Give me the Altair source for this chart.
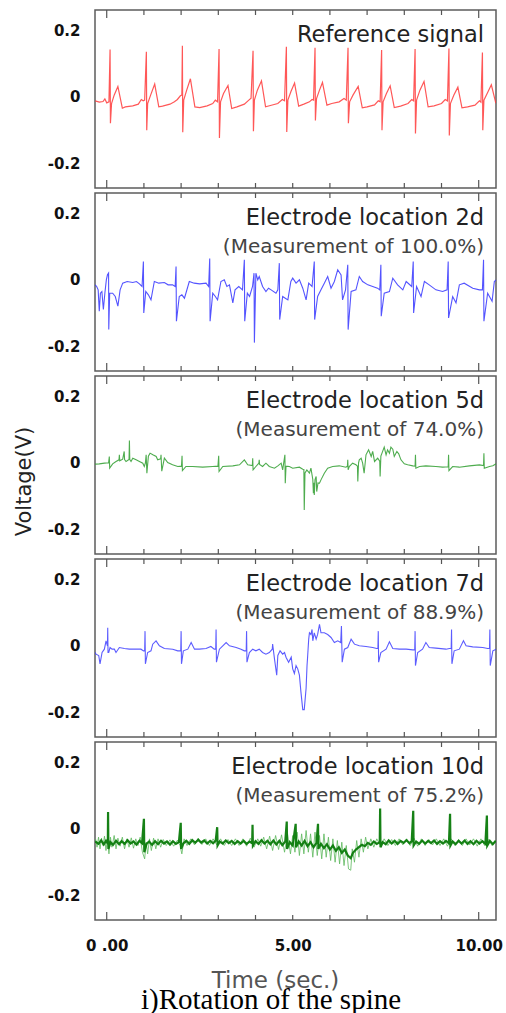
import altair as alt
import pandas as pd

# ---------------- data ----------------
TIME_TICKS_MINOR = [1, 2, 3, 4, 5, 6, 7, 8, 9]
TIME_TICKS_MAJOR = [0, 10]
TIME_LABELS = [0, 5, 10]
VOLT_TICKS = [-0.2, 0, 0.2]

PANEL_TITLES = ["Reference signal", "Electrode location 2d", "Electrode location 5d",
                "Electrode location 7d", "Electrode location 10d"]
PANEL_SUBTITLES = ["", "(Measurement of 100.0%)", "(Measurement of 74.0%)",
                   "(Measurement of 88.9%)", "(Measurement of 75.2%)"]

REF_SIGNAL = [
    (-0.31, -0.012), (-0.2, -0.016), (-0.1, -0.014), (-0.05, -0.006), (0.0, -0.018), (0.06, -0.015),
    (0.09, 0.142), (0.10, -0.079), (0.13, -0.02), (0.2, 0.005), (0.3, 0.031), (0.42, -0.034),
    (0.5, -0.03), (0.7, -0.027), (0.85, -0.022), (0.93, -0.008), (0.98, -0.012), (1.02, -0.01),
    (1.066, 0.135), (1.076, -0.10), (1.1, -0.02), (1.18, 0.005), (1.29, 0.038), (1.40, -0.03),
    (1.5, -0.028), (1.7, -0.022), (1.82, -0.015), (1.9, -0.008), (1.98, 0.003), (2.02, 0.005),
    (2.034, 0.153), (2.044, -0.106), (2.07, -0.01), (2.15, 0.02), (2.25, 0.054), (2.37, -0.03),
    (2.5, -0.032), (2.7, -0.027), (2.85, -0.02), (2.92, -0.01), (2.98, -0.015),
    (3.02, 0.143), (3.03, -0.123), (3.06, -0.015), (3.14, 0.01), (3.26, 0.034), (3.36, -0.035),
    (3.5, -0.03), (3.7, -0.022), (3.82, -0.01), (3.88, -0.004),
    (3.934, 0.138), (3.944, -0.103), (3.97, -0.01), (4.05, 0.02), (4.16, 0.048), (4.27, -0.03),
    (4.4, -0.026), (4.6, -0.02), (4.72, -0.008), (4.78, -0.012),
    (4.83, 0.150), (4.84, -0.105), (4.87, -0.01), (4.95, 0.015), (5.05, 0.041), (5.16, -0.028),
    (5.3, -0.022), (5.45, -0.015), (5.52, -0.008), (5.56, -0.01),
    (5.60, 0.147), (5.61, -0.071), (5.64, -0.005), (5.72, 0.02), (5.80, 0.043), (5.92, -0.025),
    (6.05, -0.02), (6.25, -0.015), (6.38, -0.005), (6.44, -0.01),
    (6.487, 0.147), (6.497, -0.079), (6.53, -0.015), (6.62, 0.005), (6.76, 0.031), (6.87, -0.033),
    (7.0, -0.03), (7.2, -0.024), (7.3, -0.012), (7.35, -0.015),
    (7.39, 0.140), (7.40, -0.10), (7.43, -0.015), (7.52, 0.01), (7.62, 0.033), (7.73, -0.032),
    (7.9, -0.028), (8.1, -0.02), (8.2, -0.008), (8.25, -0.012),
    (8.29, 0.143), (8.30, -0.11), (8.33, -0.01), (8.42, 0.02), (8.53, 0.046), (8.64, -0.03),
    (8.8, -0.027), (9.0, -0.02), (9.1, -0.008), (9.16, -0.012),
    (9.20, 0.145), (9.21, -0.116), (9.24, -0.02), (9.33, 0.005), (9.44, 0.029), (9.55, -0.033),
    (9.7, -0.03), (9.9, -0.025), (10.02, -0.012), (10.06, -0.016),
    (10.10, 0.133), (10.11, -0.10), (10.14, -0.01), (10.25, 0.015), (10.34, 0.036), (10.46, -0.019),
]

LOC_2D = [
    (-0.31, -0.015), (-0.27, -0.02), (-0.23, -0.03), (-0.20, -0.094), (-0.17, -0.04), (-0.13, -0.035),
    (-0.09, -0.089), (-0.05, -0.04), (-0.01, 0.0), (0.02, 0.015), (0.05, 0.02), (0.055, -0.149),
    (0.08, -0.04), (0.16, -0.04), (0.23, -0.05), (0.30, -0.079), (0.36, -0.03), (0.43, -0.01),
    (0.55, -0.005), (0.7, -0.008), (0.8, -0.005), (0.88, -0.012), (0.95, -0.02),
    (0.986, 0.055), (0.996, -0.099), (1.05, -0.035), (1.12, -0.045), (1.19, -0.06), (1.28, -0.005),
    (1.4, -0.01), (1.55, -0.008), (1.65, -0.015), (1.77, -0.015), (1.84, -0.02),
    (1.864, 0.04), (1.874, -0.124), (1.95, -0.05), (2.02, -0.045), (2.09, -0.055), (2.22, -0.005),
    (2.35, -0.01), (2.5, -0.012), (2.67, -0.01), (2.74, -0.02),
    (2.769, 0.064), (2.779, -0.124), (2.85, -0.04), (2.92, -0.05), (2.98, -0.06), (3.07, -0.005),
    (3.16, 0.0), (3.23, -0.02), (3.30, -0.015), (3.39, -0.069), (3.45, -0.03), (3.55, -0.02),
    (3.65, -0.03), (3.70, 0.06), (3.71, -0.124), (3.78, -0.04), (3.84, -0.05), (3.92, -0.02),
    (3.96, 0.02), (3.97, -0.188), (4.01, 0.02), (4.06, 0.0), (4.10, 0.01), (4.19, -0.02),
    (4.28, -0.035), (4.35, -0.025), (4.42, -0.03), (4.55, -0.04), (4.60, -0.03),
    (4.64, 0.05), (4.65, -0.119), (4.73, -0.05), (4.80, -0.055), (4.87, -0.06), (4.95, -0.005),
    (5.0, 0.005), (5.09, -0.01), (5.18, 0.0), (5.27, -0.025), (5.36, -0.06), (5.43, -0.01),
    (5.52, -0.02), (5.58, 0.055), (5.59, -0.119), (5.67, -0.05), (5.76, -0.03), (5.85, -0.01),
    (5.94, 0.01), (6.03, -0.025), (6.12, -0.005), (6.21, 0.03), (6.30, 0.015), (6.34, -0.06),
    (6.42, -0.03), (6.48, 0.045), (6.49, -0.149), (6.57, -0.035), (6.70, -0.03), (6.79, 0.01),
    (6.88, -0.005), (7.02, -0.015), (7.15, -0.02), (7.28, -0.025), (7.34, -0.03),
    (7.37, 0.045), (7.38, -0.109), (7.46, -0.04), (7.60, -0.035), (7.69, 0.005), (7.82, -0.015),
    (7.96, -0.03), (8.05, -0.005), (8.20, -0.02), (8.24, 0.055), (8.25, -0.099), (8.33, -0.02),
    (8.45, -0.05), (8.54, -0.005), (8.67, -0.015), (8.85, -0.03), (9.03, -0.035), (9.15, -0.03),
    (9.18, 0.055), (9.19, -0.114), (9.30, -0.05), (9.39, -0.069), (9.48, -0.015), (9.61, -0.01),
    (9.84, -0.025), (10.02, -0.03), (10.10, -0.03), (10.13, 0.06), (10.14, -0.124),
    (10.24, -0.04), (10.36, -0.064), (10.42, -0.005), (10.47, 0.0),
]

LOC_5D = [
    (-0.31, -0.004), (-0.2, -0.003), (-0.06, -0.001), (0.05, 0.0), (0.07, 0.019), (0.08, -0.016),
    (0.16, -0.003), (0.25, 0.004), (0.33, 0.009), (0.34, 0.024), (0.35, 0.006), (0.43, 0.011),
    (0.47, 0.034), (0.48, 0.01), (0.52, 0.004), (0.60, 0.01), (0.61, 0.067), (0.62, 0.01),
    (0.654, 0.004), (0.70, 0.014), (0.79, 0.009), (0.88, 0.004), (0.97, -0.001), (1.01, -0.011),
    (1.04, 0.0), (1.06, 0.024), (1.08, -0.031), (1.12, 0.02), (1.165, 0.029), (1.24, 0.024),
    (1.33, 0.019), (1.37, 0.009), (1.45, 0.012), (1.46, 0.024), (1.48, -0.025), (1.55, 0.014),
    (1.64, 0.001), (1.77, -0.006), (1.91, -0.011), (2.01, -0.01), (2.025, 0.021), (2.035, -0.023),
    (2.13, -0.011), (2.31, -0.011), (2.58, -0.013), (2.85, -0.011), (2.99, -0.01), (3.01, 0.021),
    (3.02, -0.026), (3.12, -0.011), (3.39, -0.009), (3.57, -0.006), (3.70, 0.009), (3.79, -0.006),
    (3.915, -0.008), (3.925, 0.014), (3.935, -0.021), (4.01, -0.011), (4.09, -0.001), (4.10, 0.009),
    (4.11, -0.005), (4.19, -0.011), (4.28, -0.001), (4.37, -0.011), (4.51, -0.016), (4.60, -0.009),
    (4.69, -0.001), (4.73, -0.021), (4.79, 0.024), (4.80, -0.061), (4.82, -0.01), (4.91, -0.011),
    (5.0, -0.016), (5.18, -0.013), (5.27, -0.019), (5.30, -0.02), (5.31, -0.141), (5.33, -0.03),
    (5.38, -0.021), (5.45, -0.031), (5.49, -0.016), (5.54, -0.05), (5.556, -0.091), (5.57, -0.06),
    (5.58, -0.096), (5.60, -0.05), (5.63, -0.041), (5.645, -0.086), (5.68, -0.06), (5.72, -0.061),
    (5.76, -0.051), (5.85, -0.031), (5.94, -0.016), (6.075, -0.011), (6.25, -0.009), (6.43, -0.013),
    (6.47, -0.01), (6.48, 0.009), (6.49, -0.021), (6.52, -0.011), (6.61, -0.001), (6.70, -0.006),
    (6.74, -0.01), (6.75, -0.056), (6.77, 0.0), (6.79, 0.009), (6.84, 0.014), (6.88, -0.001),
    (6.92, -0.031), (6.97, 0.024), (7.04, 0.039), (7.11, 0.019), (7.15, 0.034), (7.20, 0.004),
    (7.285, 0.014), (7.34, 0.005), (7.35, -0.041), (7.37, 0.02), (7.40, 0.029), (7.46, 0.047),
    (7.51, 0.024), (7.55, 0.039), (7.60, 0.029), (7.64, 0.047), (7.69, 0.041), (7.73, 0.019),
    (7.80, 0.034), (7.85, 0.027), (7.91, 0.009), (8.0, -0.003), (8.09, -0.006), (8.23, -0.009),
    (8.29, -0.01), (8.30, 0.024), (8.31, -0.016), (8.41, -0.011), (8.58, -0.009), (8.85, -0.011),
    (9.03, -0.013), (9.18, -0.012), (9.19, 0.024), (9.20, -0.023), (9.30, -0.011), (9.48, -0.013),
    (9.75, -0.009), (10.02, -0.006), (10.13, -0.008), (10.14, 0.029), (10.15, -0.016),
    (10.29, -0.011), (10.38, -0.009), (10.47, -0.003),
]

LOC_7D = [
    (-0.31, -0.02), (-0.287, -0.025), (-0.215, -0.029), (-0.18, -0.054), (-0.125, -0.02),
    (-0.063, -0.01), (-0.018, 0.015), (0.02, 0.0), (0.027, 0.054), (0.035, -0.02), (0.054, -0.02),
    (0.09, -0.005), (0.143, -0.01), (0.206, -0.01), (0.25, -0.02), (0.34, -0.005), (0.475, -0.008),
    (0.61, -0.01), (0.79, -0.01), (0.92, -0.01), (0.99, -0.015), (1.02, -0.015), (1.03, 0.044),
    (1.04, -0.054), (1.10, -0.02), (1.19, -0.015), (1.237, 0.005), (1.326, 0.015), (1.416, 0.0),
    (1.55, -0.008), (1.774, -0.01), (1.91, -0.015), (1.99, -0.015), (2.0, 0.044), (2.01, -0.054),
    (2.06, -0.015), (2.18, -0.01), (2.27, 0.01), (2.36, -0.01), (2.49, -0.01), (2.67, -0.008),
    (2.80, -0.002), (2.89, -0.01), (2.93, -0.01), (2.94, 0.049), (2.95, -0.049), (3.03, -0.01),
    (3.21, 0.01), (3.30, 0.0), (3.48, -0.005), (3.61, -0.01), (3.70, -0.015), (3.75, -0.015),
    (3.76, 0.044), (3.77, -0.049), (3.835, -0.02), (3.925, -0.01), (4.01, -0.015), (4.10, -0.01),
    (4.19, -0.02), (4.28, -0.025), (4.37, -0.02), (4.45, -0.01), (4.46, 0.005), (4.51, -0.039),
    (4.57, -0.088), (4.60, -0.029), (4.66, -0.015), (4.73, -0.025), (4.78, -0.02), (4.82, -0.034),
    (4.89, -0.049), (4.96, -0.034), (5.0, -0.069), (5.045, -0.083), (5.09, -0.059), (5.135, -0.069),
    (5.18, -0.088), (5.22, -0.137), (5.27, -0.191), (5.31, -0.191), (5.36, -0.127), (5.385, -0.059),
    (5.40, -0.034), (5.43, 0.02), (5.45, 0.039), (5.49, 0.034), (5.52, 0.049), (5.54, 0.015),
    (5.58, 0.039), (5.63, 0.02), (5.67, 0.034), (5.72, 0.064), (5.76, 0.039), (5.85, 0.039),
    (5.94, 0.034), (6.03, 0.025), (6.12, 0.01), (6.21, 0.015), (6.29, 0.01), (6.31, 0.059),
    (6.33, -0.049), (6.39, -0.01), (6.48, -0.005), (6.57, 0.02), (6.66, 0.005), (6.79, 0.0),
    (6.97, -0.002), (7.15, -0.005), (7.26, -0.008), (7.29, -0.008), (7.30, 0.044), (7.31, -0.049),
    (7.37, -0.02), (7.51, -0.01), (7.60, 0.012), (7.69, -0.008), (7.87, -0.01), (8.05, -0.01),
    (8.23, -0.012), (8.28, -0.012), (8.29, 0.044), (8.30, -0.059), (8.36, -0.02), (8.49, -0.01),
    (8.58, 0.01), (8.67, -0.005), (8.85, -0.007), (9.12, -0.01), (9.21, -0.008), (9.26, -0.008),
    (9.27, 0.049), (9.28, -0.054), (9.34, -0.015), (9.48, -0.01), (9.59, 0.015), (9.66, 0.0),
    (9.84, -0.003), (10.11, -0.005), (10.24, -0.008), (10.29, -0.008), (10.30, 0.049),
    (10.31, -0.059), (10.38, -0.015), (10.47, -0.01),
]

LOC_10D = [
    (-0.31, -0.038), (-0.22, -0.045), (-0.15, -0.035), (-0.08, -0.047), (-0.02, -0.036), (0.03, -0.044),
    (0.036, 0.05), (0.045, -0.06), (0.1, -0.04), (0.17, -0.048), (0.25, -0.036), (0.33, -0.046),
    (0.4, -0.037), (0.48, -0.045), (0.56, -0.034), (0.64, -0.044), (0.72, -0.038), (0.8, -0.047),
    (0.88, -0.036), (0.95, -0.043), (1.0, 0.03), (1.01, -0.07), (1.07, -0.045), (1.14, -0.038),
    (1.22, -0.048), (1.3, -0.037), (1.38, -0.046), (1.46, -0.036), (1.54, -0.044), (1.62, -0.038),
    (1.7, -0.047), (1.78, -0.037), (1.86, -0.045), (1.94, -0.04), (1.99, 0.018), (2.0, -0.06),
    (2.06, -0.044), (2.14, -0.036), (2.22, -0.045), (2.3, -0.034), (2.38, -0.042), (2.46, -0.033),
    (2.54, -0.041), (2.62, -0.035), (2.7, -0.044), (2.78, -0.036), (2.86, -0.043), (2.93, -0.035),
    (2.97, 0.005), (2.98, -0.05), (3.04, -0.038), (3.12, -0.044), (3.2, -0.035), (3.28, -0.043),
    (3.36, -0.036), (3.44, -0.045), (3.52, -0.037), (3.6, -0.044), (3.68, -0.036), (3.76, -0.045),
    (3.84, -0.038), (3.91, -0.043), (3.92, 0.012), (3.93, -0.05), (4.0, -0.037), (4.08, -0.045),
    (4.16, -0.034), (4.24, -0.044), (4.32, -0.036), (4.4, -0.046), (4.48, -0.035), (4.56, -0.047),
    (4.64, -0.036), (4.72, -0.049), (4.8, -0.038), (4.84, 0.022), (4.85, -0.06), (4.92, -0.04),
    (5.0, -0.05), (5.08, 0.015), (5.09, -0.055), (5.16, -0.038), (5.24, -0.05), (5.32, -0.036),
    (5.4, -0.052), (5.48, -0.04), (5.56, -0.055), (5.64, -0.042), (5.68, 0.015), (5.69, -0.06),
    (5.76, -0.045), (5.84, -0.058), (5.92, -0.046), (6.0, -0.062), (6.08, -0.05), (6.16, -0.066),
    (6.24, -0.055), (6.32, -0.072), (6.4, -0.062), (6.48, -0.08), (6.56, -0.088), (6.62, -0.072),
    (6.7, -0.062), (6.78, -0.055), (6.86, -0.048), (6.94, -0.052), (7.02, -0.042), (7.1, -0.048),
    (7.18, -0.038), (7.26, -0.045), (7.34, -0.04), (7.35, 0.061), (7.36, -0.055), (7.42, -0.04),
    (7.5, -0.046), (7.58, -0.035), (7.66, -0.044), (7.74, -0.036), (7.82, -0.045), (7.9, -0.036),
    (7.98, -0.042), (8.06, -0.034), (8.14, -0.043), (8.2, -0.037), (8.24, 0.054), (8.25, -0.05),
    (8.32, -0.038), (8.4, -0.045), (8.48, -0.035), (8.56, -0.044), (8.64, -0.036), (8.72, -0.043),
    (8.8, -0.035), (8.88, -0.045), (8.96, -0.037), (9.04, -0.044), (9.12, -0.036), (9.2, -0.043),
    (9.23, 0.045), (9.24, -0.05), (9.3, -0.038), (9.38, -0.046), (9.46, -0.036), (9.54, -0.044),
    (9.62, -0.035), (9.7, -0.045), (9.78, -0.037), (9.86, -0.046), (9.94, -0.036), (10.02, -0.044),
    (10.1, -0.037), (10.18, -0.045), (10.22, 0.04), (10.23, -0.05), (10.3, -0.036), (10.38, -0.046),
    (10.46, -0.036),
]

LOC_10D_NOISE = [
    (-0.3, -0.03), (-0.26, -0.055), (-0.22, -0.025), (-0.18, -0.06), (-0.14, -0.028), (-0.1, -0.05),
    (-0.06, -0.022), (-0.02, -0.065), (0.02, -0.03), (0.06, -0.075), (0.1, -0.025), (0.14, -0.055),
    (0.2, -0.02), (0.25, -0.06), (0.3, -0.028), (0.36, -0.052), (0.42, -0.025), (0.48, -0.06),
    (0.54, -0.03), (0.6, -0.055), (0.66, -0.027), (0.72, -0.058), (0.78, -0.03), (0.84, -0.05),
    (0.9, -0.025), (0.96, -0.07), (1.02, -0.09), (1.06, -0.04), (1.1, -0.075), (1.15, -0.03),
    (1.2, -0.065), (1.26, -0.028), (1.32, -0.06), (1.38, -0.03), (1.45, -0.055), (1.52, -0.032),
    (1.6, -0.05), (1.7, -0.033), (1.8, -0.052), (1.9, -0.034), (1.97, -0.05), (2.02, -0.075),
    (2.08, -0.03), (2.16, -0.05), (2.26, -0.03), (2.36, -0.048), (2.46, -0.028), (2.56, -0.047),
    (2.66, -0.03), (2.76, -0.05), (2.86, -0.03), (2.96, -0.048), (3.06, -0.03), (3.16, -0.05),
    (3.26, -0.032), (3.36, -0.05), (3.46, -0.03), (3.56, -0.05), (3.66, -0.03), (3.76, -0.052),
    (3.86, -0.028), (3.96, -0.055), (4.06, -0.03), (4.14, -0.052), (4.22, -0.025), (4.3, -0.06),
    (4.38, -0.022), (4.46, -0.065), (4.54, -0.02), (4.62, -0.062), (4.7, -0.018), (4.78, -0.07),
    (4.86, -0.015), (4.94, -0.075), (5.0, -0.02), (5.06, -0.07), (5.12, -0.01), (5.18, -0.08),
    (5.24, -0.015), (5.3, -0.075), (5.36, -0.005), (5.42, -0.07), (5.48, -0.015), (5.54, -0.085),
    (5.6, -0.01), (5.66, -0.08), (5.72, -0.02), (5.78, -0.09), (5.84, -0.015), (5.9, -0.085),
    (5.96, -0.025), (6.02, -0.095), (6.08, -0.03), (6.14, -0.1), (6.2, -0.035), (6.26, -0.105),
    (6.32, -0.04), (6.38, -0.11), (6.44, -0.05), (6.5, -0.12), (6.56, -0.124), (6.6, -0.06),
    (6.66, -0.1), (6.72, -0.035), (6.78, -0.085), (6.84, -0.03), (6.9, -0.07), (6.96, -0.025),
    (7.02, -0.06), (7.1, -0.03), (7.18, -0.055), (7.26, -0.03), (7.36, -0.05), (7.46, -0.03),
    (7.56, -0.05), (7.66, -0.032), (7.76, -0.05), (7.86, -0.03), (7.96, -0.048), (8.06, -0.03),
    (8.16, -0.05), (8.26, -0.028), (8.36, -0.052), (8.46, -0.03), (8.56, -0.05), (8.66, -0.032),
    (8.76, -0.048), (8.86, -0.03), (8.96, -0.05), (9.06, -0.03), (9.16, -0.052), (9.26, -0.03),
    (9.36, -0.05), (9.46, -0.032), (9.56, -0.05), (9.66, -0.03), (9.76, -0.048), (9.86, -0.03),
    (9.96, -0.052), (10.06, -0.03), (10.16, -0.05), (10.26, -0.032), (10.36, -0.05), (10.46, -0.035),
]

CAPTION = ["i)Rotation of the spine"]

# ---------------- layout / styling ----------------
W, H = 401, 178
SANS = "DejaVu Sans"
XS = alt.Scale(domain=[-0.315, 10.465], nice=False, zero=False)
YS = alt.Scale(domain=[-0.273, 0.26], nice=False, zero=False)


def to_df(pairs):
    return pd.DataFrame(pairs, columns=["t", "v"])


def y_axis(title=None):
    kw = dict(values=VOLT_TICKS,
              labelExpr="datum.value == 0 ? '0' : (datum.value < 0 ? '-' : '') + format(abs(datum.value), '.1f')",
              ticks=False, domain=False, grid=False, labelPadding=15,
              labelFont=SANS, labelFontWeight="bold", labelFontSize=15, labelColor="#111")
    if title:
        kw.update(title=title, titleFont=SANS, titleFontSize=21, titleFontWeight="normal",
                  titleColor="#222", titlePadding=13, titleY=105)
    else:
        kw["title"] = None
    return alt.Axis(**kw)


def x_axis(show):
    if not show:
        return None
    return alt.Axis(values=TIME_LABELS,
                    labelExpr="datum.value == 0 ? '0 .00' : format(datum.value, '.2f')",
                    ticks=False, domain=False, grid=False, labelPadding=18,
                    labelFont=SANS, labelFontWeight="bold", labelFontSize=15, labelColor="#111",
                    labelFlush=False, labelOverlap=False,
                    title="Time (sec.)", titleFont=SANS, titleFontSize=23, titleFontWeight="normal",
                    titleColor="#555", titleX=180, titleY=67, titleBaseline="alphabetic")


def panel(series, idx, y_title=None, show_x=False, extra_top=None):
    xa = x_axis(show_x)
    ya = y_axis(y_title)
    layers = []
    for pairs, color, width, opacity in series:
        layers.append(
            alt.Chart(to_df(pairs)).mark_line(color=color, strokeWidth=width, opacity=opacity,
                                              clip=True)
            .encode(x=alt.X("t:Q", scale=XS, axis=xa), y=alt.Y("v:Q", scale=YS, axis=ya))
        )
    for ticks, ln in ((TIME_TICKS_MINOR, 5), (TIME_TICKS_MAJOR, 8)):
        tdf = pd.DataFrame({"t": ticks})
        for y0, y1 in ((0, ln), (H, H - ln)):
            layers.append(
                alt.Chart(tdf).mark_rule(color="#555", strokeWidth=1.2)
                .encode(x=alt.X("t:Q", scale=XS, axis=xa), y=alt.value(y0), y2=alt.value(y1))
            )
    layers.append(
        alt.Chart(pd.DataFrame({"label": [PANEL_TITLES[idx]]}))
        .mark_text(align="right", baseline="alphabetic", font=SANS, fontSize=22.5, color="#222")
        .encode(text="label:N", x=alt.value(389), y=alt.value(32))
    )
    if PANEL_SUBTITLES[idx]:
        layers.append(
            alt.Chart(pd.DataFrame({"label": [PANEL_SUBTITLES[idx]]}))
            .mark_text(align="right", baseline="alphabetic", font=SANS, fontSize=20, color="#444")
            .encode(text="label:N", x=alt.value(389), y=alt.value(60))
        )
    if extra_top is not None:
        layers.append(extra_top)
    return alt.layer(*layers).properties(width=W, height=H)


caption = (alt.Chart(pd.DataFrame({"label": CAPTION}))
           .mark_text(align="center", baseline="alphabetic", font="Liberation Serif",
                      fontSize=29, color="#000")
           .encode(text="label:N", x=alt.value(176), y=alt.value(267)))

p1 = panel([(REF_SIGNAL, "#ff3a3a", 1.2, 0.85)], 0)
p2 = panel([(LOC_2D, "#3535ff", 1.1, 0.85)], 1)
p3 = panel([(LOC_5D, "#2f9e2f", 1.1, 0.85)], 2, y_title="Voltage(V)")
p4 = panel([(LOC_7D, "#4040ff", 1.1, 0.85)], 3)
p5 = panel([(LOC_10D_NOISE, "#5cb85c", 1.0, 0.8), (LOC_10D, "#0a7a0a", 2.2, 0.95)], 4,
           show_x=True, extra_top=caption)

chart = (alt.vconcat(p1, p2, p3, p4, p5, spacing=1)
         .properties(padding={"left": 12, "top": 8, "right": 2, "bottom": 0}, background="white")
         .configure_view(stroke="#5c5c5c", strokeWidth=1.5))

chart.save("out.html", embed_options={"renderer": "svg", "actions": False})
